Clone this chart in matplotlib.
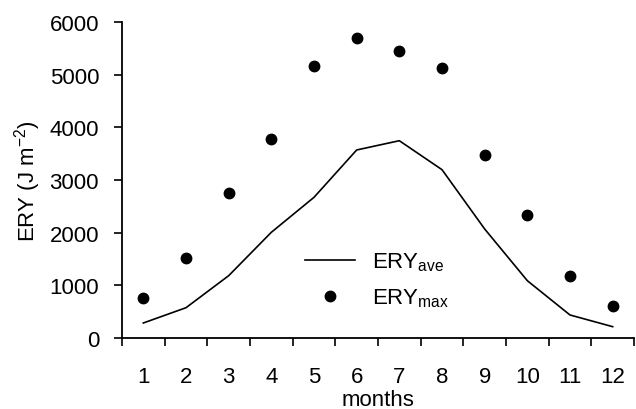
import numpy as np
import matplotlib.pyplot as plt

plt.rcParams['font.family'] = ['Liberation Sans', 'DejaVu Sans']
plt.rcParams['mathtext.fontset'] = 'custom'
plt.rcParams['mathtext.rm'] = 'Liberation Sans'
plt.rcParams['mathtext.it'] = 'Liberation Sans:italic'

# Data
months = [1, 2, 3, 4, 5, 6, 7, 8, 9, 10, 11, 12]
ery_ave = [285, 575, 1183, 2007, 2671, 3570, 3746, 3196, 2070, 1088, 437, 215]
ery_max = [754, 1525, 2759, 3778, 5164, 5690, 5443, 5126, 3468, 2335, 1171, 614]
yticks = [0, 1000, 2000, 3000, 4000, 5000, 6000]

fig = plt.figure(figsize=(6.36, 4.10), dpi=100)
ax = fig.add_axes([122 / 636, 1 - 339 / 410, 512 / 636, 316 / 410])

line, = ax.plot(months, ery_ave, color='black', linewidth=1.2)
dots, = ax.plot(months, ery_max, linestyle='none', marker='o', color='black',
                markersize=7.5)

ax.set_xlim(0.5, 12.5)
ax.set_ylim(0, 6000)
ax.set_yticks(yticks)
ax.set_xticks(months)
ax.set_xticks(np.arange(0.5, 13, 1), minor=True)
ax.tick_params(axis='x', which='major', length=0, pad=20, labelsize=16)
ax.tick_params(axis='x', which='minor', length=5.5, width=1.2, direction='out')
ax.tick_params(axis='y', length=5.5, width=1.2, direction='out', pad=11, labelsize=16)

for s in ['top', 'right']:
    ax.spines[s].set_visible(False)
for s in ['left', 'bottom']:
    ax.spines[s].set_linewidth(1.3)

ax.set_ylabel('ERY (J m$^{-2}$)', fontsize=16, labelpad=5)
ax.set_xlabel('months', fontsize=16, labelpad=1.5)

ax.legend([line, dots], [r'ERY$_\mathregular{ave}$', r'ERY$_\mathregular{max}$'],
          loc='center left', bbox_to_anchor=(287 / 636, 1 - 281 / 410),
          bbox_transform=fig.transFigure, frameon=False, fontsize=16,
          handlelength=2.25, handletextpad=0.77, labelspacing=0.6, numpoints=1,
          borderpad=0.3)

fig.savefig('out.png', dpi=100)
